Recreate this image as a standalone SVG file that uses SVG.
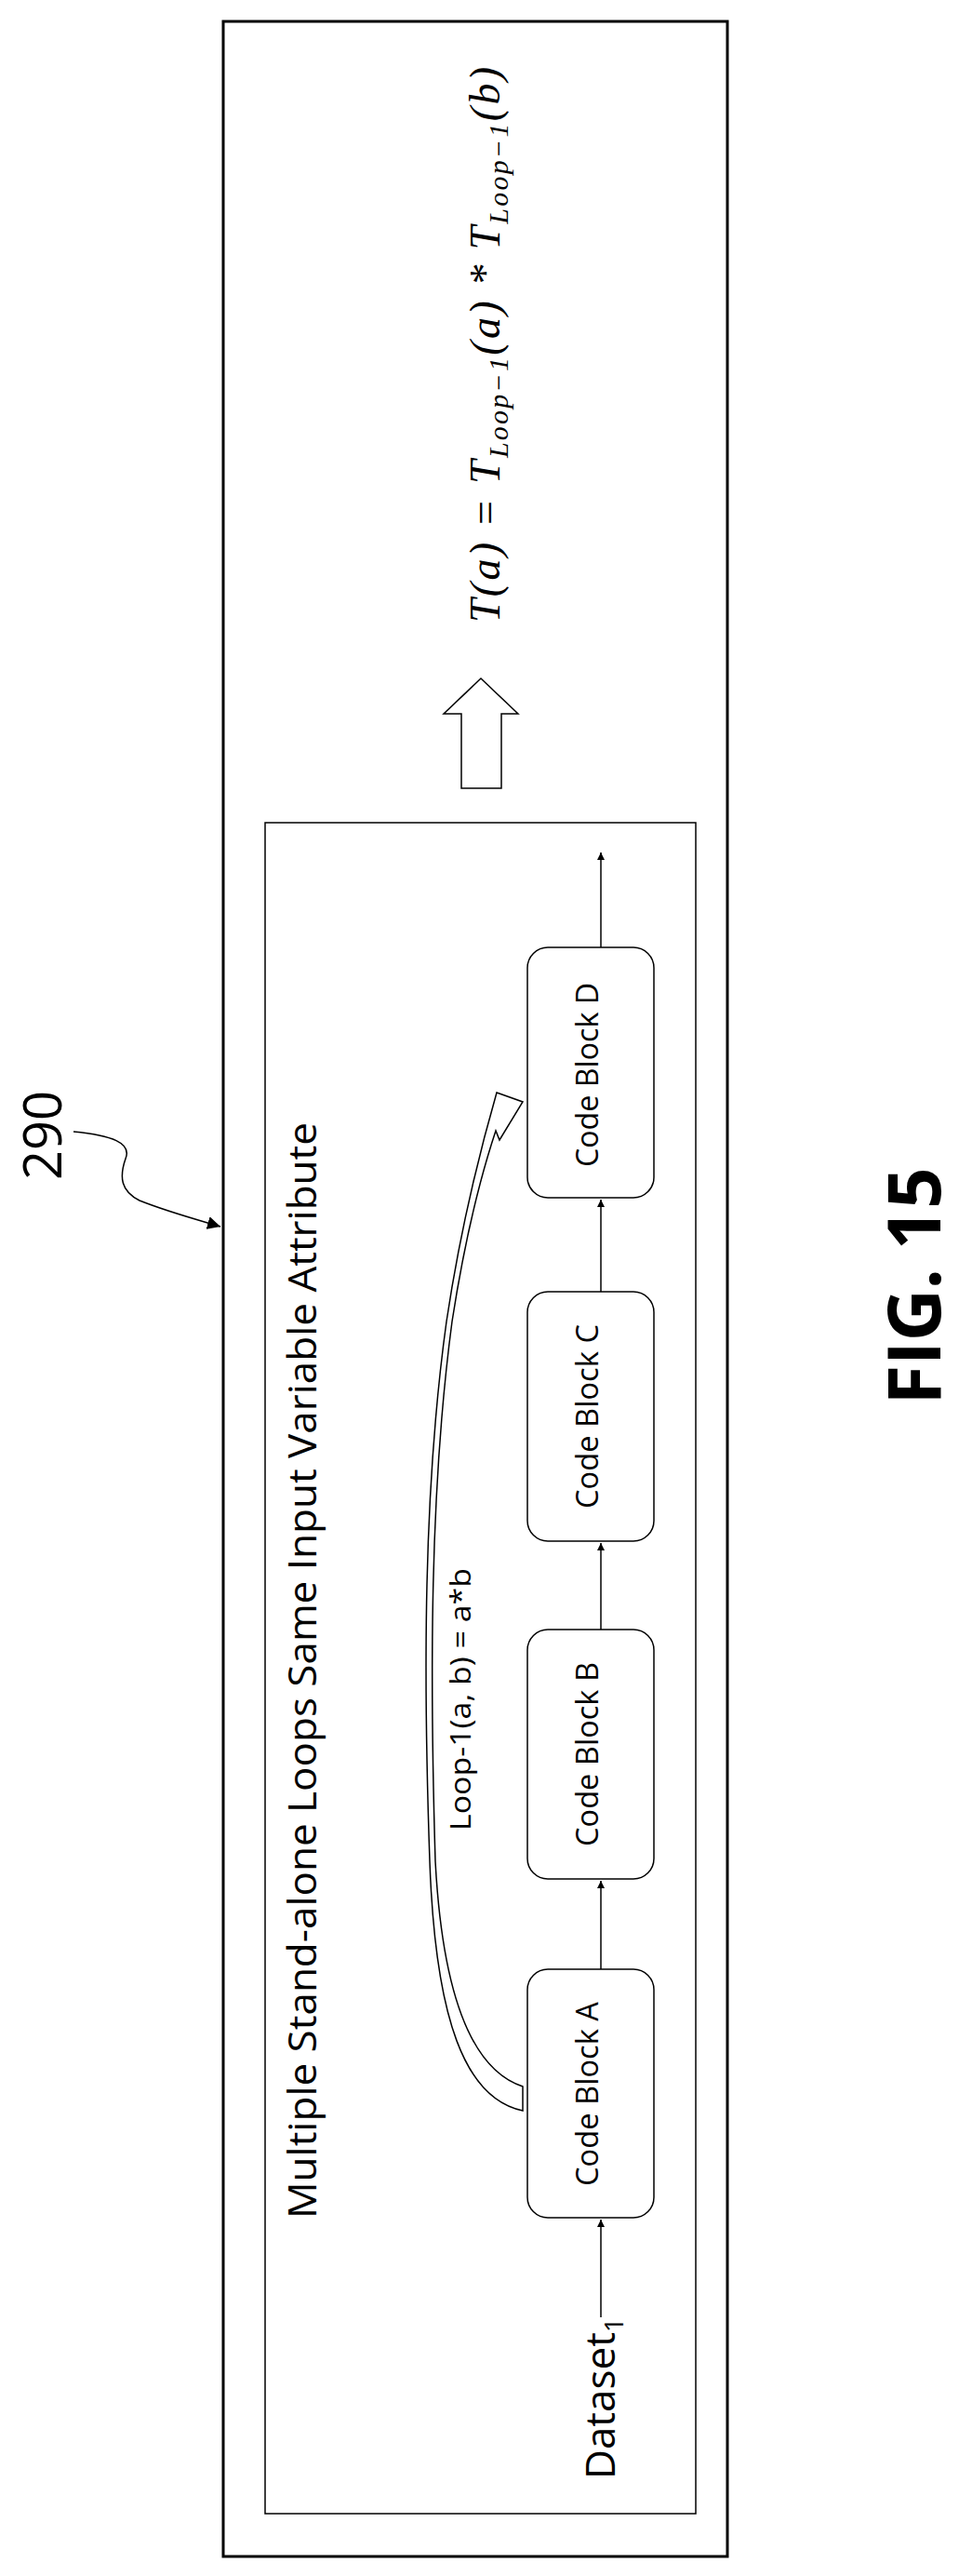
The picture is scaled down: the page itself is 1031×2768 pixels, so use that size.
<svg xmlns="http://www.w3.org/2000/svg" width="1031" height="2768" viewBox="0 0 1031 2768">
<style>
.t{font-family:"Open Sans","Liberation Sans",sans-serif;fill:#000}
.m{font-family:"Liberation Serif",serif;font-style:italic;fill:#000}
.box{fill:#fff;stroke:#000;stroke-width:1.5}
.ln{fill:none;stroke:#000;stroke-width:1.5}
</style>
<defs>
<marker id="ah" viewBox="0 0 10 10" refX="10" refY="5" markerWidth="8" markerHeight="8" markerUnits="userSpaceOnUse" orient="auto"><path d="M0,0L10,5L0,10Z" fill="#000"/></marker>
<marker id="ah2" viewBox="0 0 10 10" refX="10" refY="5" markerWidth="14" markerHeight="14" markerUnits="userSpaceOnUse" orient="auto"><path d="M0,0L10,5L0,10Z" fill="#000"/></marker>
</defs>
<rect x="240" y="23" width="542" height="2724" fill="none" stroke="#000" stroke-width="3"/>
<rect x="285" y="884" width="463" height="1817" fill="none" stroke="#000" stroke-width="1.5"/>
<g id="formula"><text class="m" font-size="46" textLength="597" lengthAdjust="spacing" transform="translate(537,669) rotate(-90)">T(a)  =  T<tspan font-size="30" dy="9">Loop−1</tspan><tspan dy="-9">(a) * T</tspan><tspan font-size="30" dy="9">Loop−1</tspan><tspan dy="-9">(b)</tspan></text></g>
<g id="bigarrow"><polygon points="517,729 557,767 539,767 539,847 496,847 496,767 477,767" fill="#fff" stroke="#000" stroke-width="1.5"/></g>
<g id="label290"><text class="t" font-size="56" text-anchor="middle" transform="translate(66,1220) rotate(-90)">290</text></g>
<g id="title"><text class="t" font-size="42" textLength="1178" lengthAdjust="spacingAndGlyphs" transform="translate(340,2384) rotate(-90)">Multiple Stand-alone Loops Same Input Variable Attribute</text></g>
<g id="blockA"><rect class="box" x="567" y="2116" width="136" height="267" rx="22"/><text class="t" font-size="33" text-anchor="middle" textLength="198" lengthAdjust="spacingAndGlyphs" transform="translate(643,2250) rotate(-90)">Code Block A</text></g>
<g id="blockB"><rect class="box" x="567" y="1751" width="136" height="268" rx="22"/><text class="t" font-size="33" text-anchor="middle" textLength="198" lengthAdjust="spacingAndGlyphs" transform="translate(643,1885) rotate(-90)">Code Block B</text></g>
<g id="blockC"><rect class="box" x="567" y="1388" width="136" height="268" rx="22"/><text class="t" font-size="33" text-anchor="middle" textLength="198" lengthAdjust="spacingAndGlyphs" transform="translate(643,1522) rotate(-90)">Code Block C</text></g>
<g id="blockD"><rect class="box" x="567" y="1018" width="136" height="269" rx="22"/><text class="t" font-size="33" text-anchor="middle" textLength="198" lengthAdjust="spacingAndGlyphs" transform="translate(643,1155) rotate(-90)">Code Block D</text></g>
<g id="dataset"><text class="t" font-size="44" transform="translate(661,2664) rotate(-90)">Dataset<tspan font-size="28" dy="9">1</tspan></text></g>
<g id="looplabel"><text class="t" font-size="31" textLength="282" lengthAdjust="spacingAndGlyphs" transform="translate(506,1967) rotate(-90)">Loop-1(a, b) = a*b</text></g>
<g id="figlabel"><text class="t" font-size="78" font-weight="bold" text-anchor="middle" textLength="255" lengthAdjust="spacingAndGlyphs" transform="translate(1011,1382) rotate(-90)">FIG. 15</text></g>
<g id="connectors">
<line class="ln" x1="646" y1="2490" x2="646" y2="2385" marker-end="url(#ah)"/>
<line class="ln" x1="646" y1="2116" x2="646" y2="2021" marker-end="url(#ah)"/>
<line class="ln" x1="646" y1="1751" x2="646" y2="1658" marker-end="url(#ah)"/>
<line class="ln" x1="646" y1="1388" x2="646" y2="1289" marker-end="url(#ah)"/>
<line class="ln" x1="646" y1="1018" x2="646" y2="916" marker-end="url(#ah)"/>
<path class="ln" d="M79,1216 C120,1220 142,1228 135,1245 C128,1265 130,1280 150,1290 C180,1302 210,1310 237,1318" stroke-width="2.5" marker-end="url(#ah2)"/>
<path d="M562,2268 C500,2255 468,2170 462,2000 C455,1800 455,1600 480,1420 C495,1320 515,1240 534,1174 L562,1184 L537,1225 L533,1215 C518,1260 500,1330 486,1420 C462,1600 462,1800 468,2000 C476,2150 510,2225 562,2242 Z" fill="#fff" stroke="#000" stroke-width="1.5"/>
</g>
</svg>
